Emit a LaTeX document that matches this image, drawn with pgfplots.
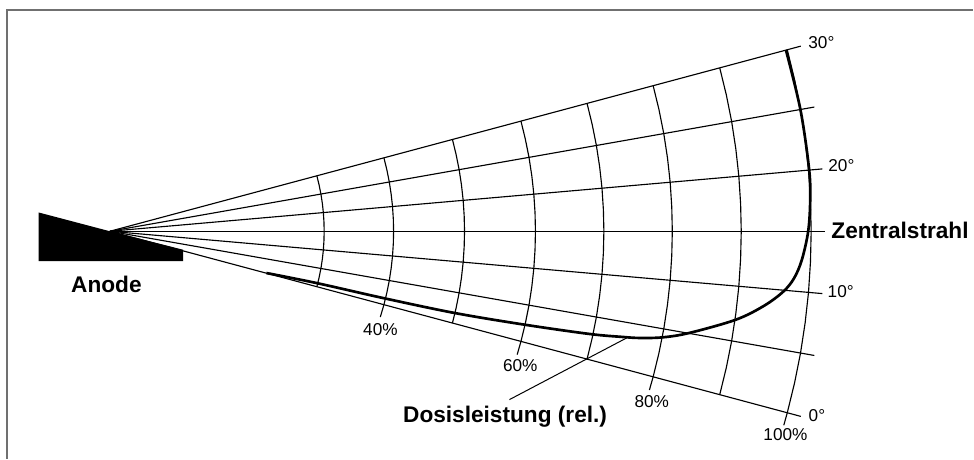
\documentclass[border=0pt]{standalone}
\usepackage{fontspec}
\setmainfont{Liberation Sans}
\usepackage{pgfplots}
\pgfplotsset{compat=1.18}
\definecolor{framegray}{HTML}{707070}
\tikzset{
	lbl/.style={inner sep=0pt, anchor=base west, font=\fontsize{12.9}{14}\selectfont},
	boldlbl/.style={inner sep=0pt, anchor=base west, font=\fontsize{17}{20}\selectfont\bfseries},
}
% values are in reference pixels, measured from the focal spot on the anode
\begin{document}
\begin{tikzpicture}
\begin{axis}[
	hide axis, scale only axis, clip=false,
	width=730.5pt, height=344.25pt,
	xmin=-110, xmax=864, ymin=-227.5, ymax=231.5,
]
\path (rel axis cs:0,0) rectangle (rel axis cs:1,1);
% frame, only left and top are visible
\addplot[framegray, line width=1.5pt] coordinates {(-103,-227.5) (-103,221.5) (864,221.5)};
% anode
\addplot[fill=black, draw=none] coordinates {(-71.3,18.8) (0,0) (73.3,-18.5) (73.3,-29.8) (-71.3,-29.8)};
% rays
\pgfplotsinvokeforeach{15,10,5,0,-5,-10,-15}{
	\addplot[black, line width=0.85pt, data cs=polar] coordinates {(#1,0) (#1,716)};
}
% dose rate grid
\pgfplotsinvokeforeach{214.5,284,355,426,494.5,563,632,702}{
	\addplot[black, line width=0.85pt, data cs=polar] coordinates {
		(15,#1) (12.5,#1) (10,#1) (7.5,#1) (5,#1) (2.5,#1) (0,#1)
		(-2.5,#1) (-5,#1) (-7.5,#1) (-10,#1) (-12.5,#1) (-15,#1)};
}
% ticks below the lowest ray
\addplot[black, line width=0.85pt, data cs=polar] coordinates {(-15,284) (-17.6,284)};
\addplot[black, line width=0.85pt, data cs=polar] coordinates {(-15,426) (-16.85,426)};
\addplot[black, line width=0.85pt, data cs=polar] coordinates {(-15,563) (-16.4,563)};
\addplot[black, line width=0.85pt, data cs=polar] coordinates {(-15,702) (-16.06,702)};
% dose rate curve
\addplot[black, line width=2pt, smooth, tension=0.55] coordinates {
	(676.7,181.5) (691.3,121.5) (700,61.5) (701,30) (699,-0.2)
	(692.7,-28.5) (685,-46.8) (674.3,-60.2) (655,-74.5) (626.7,-88.5)
	(580,-101.8) (553.3,-106.2) (530,-106.8) (513.3,-105.8) (480,-102.8)
	(415,-93.5) (345,-81.8) (273.3,-66.8) (206.7,-51.8) (156.7,-41.8)};
% pointer
\addplot[black, line width=0.75pt] coordinates {(400,-168.5) (517.3,-106.8)};
\node[lbl] at (axis cs:699,183.2) {30°};
\node[lbl] at (axis cs:719,59.8) {20°};
\node[lbl] at (axis cs:718.3,-66.8) {10°};
\node[lbl] at (axis cs:699.3,-190.2) {0°};
\node[lbl] at (axis cs:654,-209.5) {100\%};
\node[lbl] at (axis cs:525,-176.5) {80\%};
\node[lbl] at (axis cs:393.3,-140.2) {60\%};
\node[lbl] at (axis cs:253.3,-104.5) {40\%};
\node[boldlbl] at (axis cs:722,-6.8) {Zentralstrahl};
\node[boldlbl] at (axis cs:293.3,-191.2) {Dosisleistung (rel.)};
\node[boldlbl] at (axis cs:-39,-61.8) {Anode};
\end{axis}
\end{tikzpicture}
\end{document}
